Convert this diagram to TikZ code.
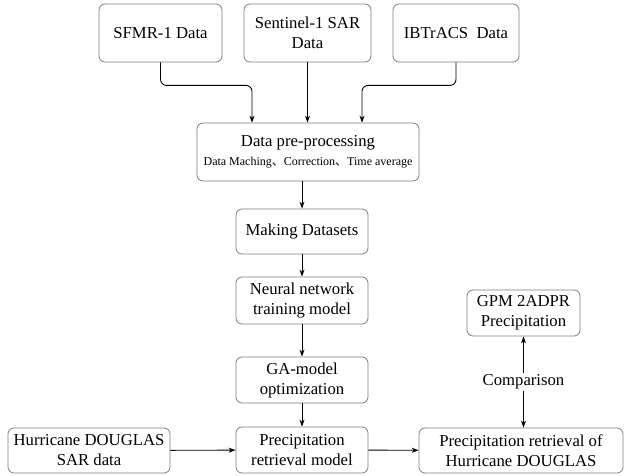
\documentclass[tikz,border=0pt]{standalone}
\usepackage{fontspec}
\setmainfont{Liberation Serif}
\newfontfamily\tms{Liberation Serif}
\newfontfamily\cjk{Noto Sans CJK SC}
\usetikzlibrary{arrows.meta}
\definecolor{bordergray}{RGB}{125,125,125}
\begin{document}
\begin{tikzpicture}[x=1pt,y=-1pt,
  box/.style={draw=bordergray, rounded corners=6pt, align=center, inner sep=0pt,
    line width=0.8pt, font=\tms\fontsize{16.7}{20}\selectfont},
  arr/.style={-{Stealth[length=7pt,width=5pt]}, line width=0.9pt},
  darr/.style={{Stealth[length=7pt,width=5pt]}-{Stealth[length=7pt,width=5pt]}, line width=0.9pt}]
\useasboundingbox (0,0) rectangle (624,476);
% top sources
\node[box, minimum width=123pt, minimum height=58pt] (sfmr) at (160.5,33) {SFMR-1 Data};
\node[box, minimum width=127pt, minimum height=58pt] (sent) at (307.5,33) {Sentinel-1 SAR\\Data};
\node[box, minimum width=126pt, minimum height=58pt] (ibt) at (456,33) {IBTrACS\ \ Data};
% pre-processing
\node[box, minimum width=222pt, minimum height=58pt] (pre) at (308,152)
  {Data pre-processing\\[-1pt]{\tms\fontsize{12}{14}\selectfont Data Maching{\cjk 、}Correction{\cjk 、}Time average}};
% middle column
\node[box, minimum width=132pt, minimum height=45pt] (make) at (302,231.5) {Making Datasets};
\node[box, minimum width=132pt, minimum height=47pt] (nn) at (302,300.5) {Neural network\\training model};
\node[box, minimum width=132pt, minimum height=46pt] (ga) at (302,380) {GA-model\\optimization};
\node[box, minimum width=132pt, minimum height=46pt] (prm) at (302,450) {Precipitation\\retrieval model};
% bottom row
\node[box, minimum width=162pt, minimum height=45pt] (hsar) at (89,450.5) {Hurricane DOUGLAS\\SAR data};
\node[box, minimum width=204pt, minimum height=45pt] (prh) at (521,450.5) {Precipitation retrieval of\\Hurricane DOUGLAS};
\node[box, minimum width=113pt, minimum height=46pt] (gpm) at (523.5,313) {GPM 2ADPR\\Precipitation};
% connectors
\draw[arr, rounded corners=6pt] (sfmr.south) -- ++(0,23) -| ([xshift=-56pt]pre.north);
\draw[arr] (sent.south) -- (sent.south |- pre.north);
\draw[arr, rounded corners=6pt] (ibt.south) -- ++(0,23) -| ([xshift=54pt]pre.north);
\draw[arr] (pre.south -| make.north) -- (make.north);
\draw[arr] (make) -- (nn);
\draw[arr] (nn) -- (ga);
\draw[arr] (ga) -- (prm);
\draw[arr] (hsar) -- (prm);
\draw[arr] (prm) -- (prh);
\draw[darr] (gpm.south) -- node[fill=white, inner sep=2pt, font=\tms\fontsize{16.7}{20}\selectfont] {Comparison} (gpm.south |- prh.north);
\end{tikzpicture}
\end{document}
